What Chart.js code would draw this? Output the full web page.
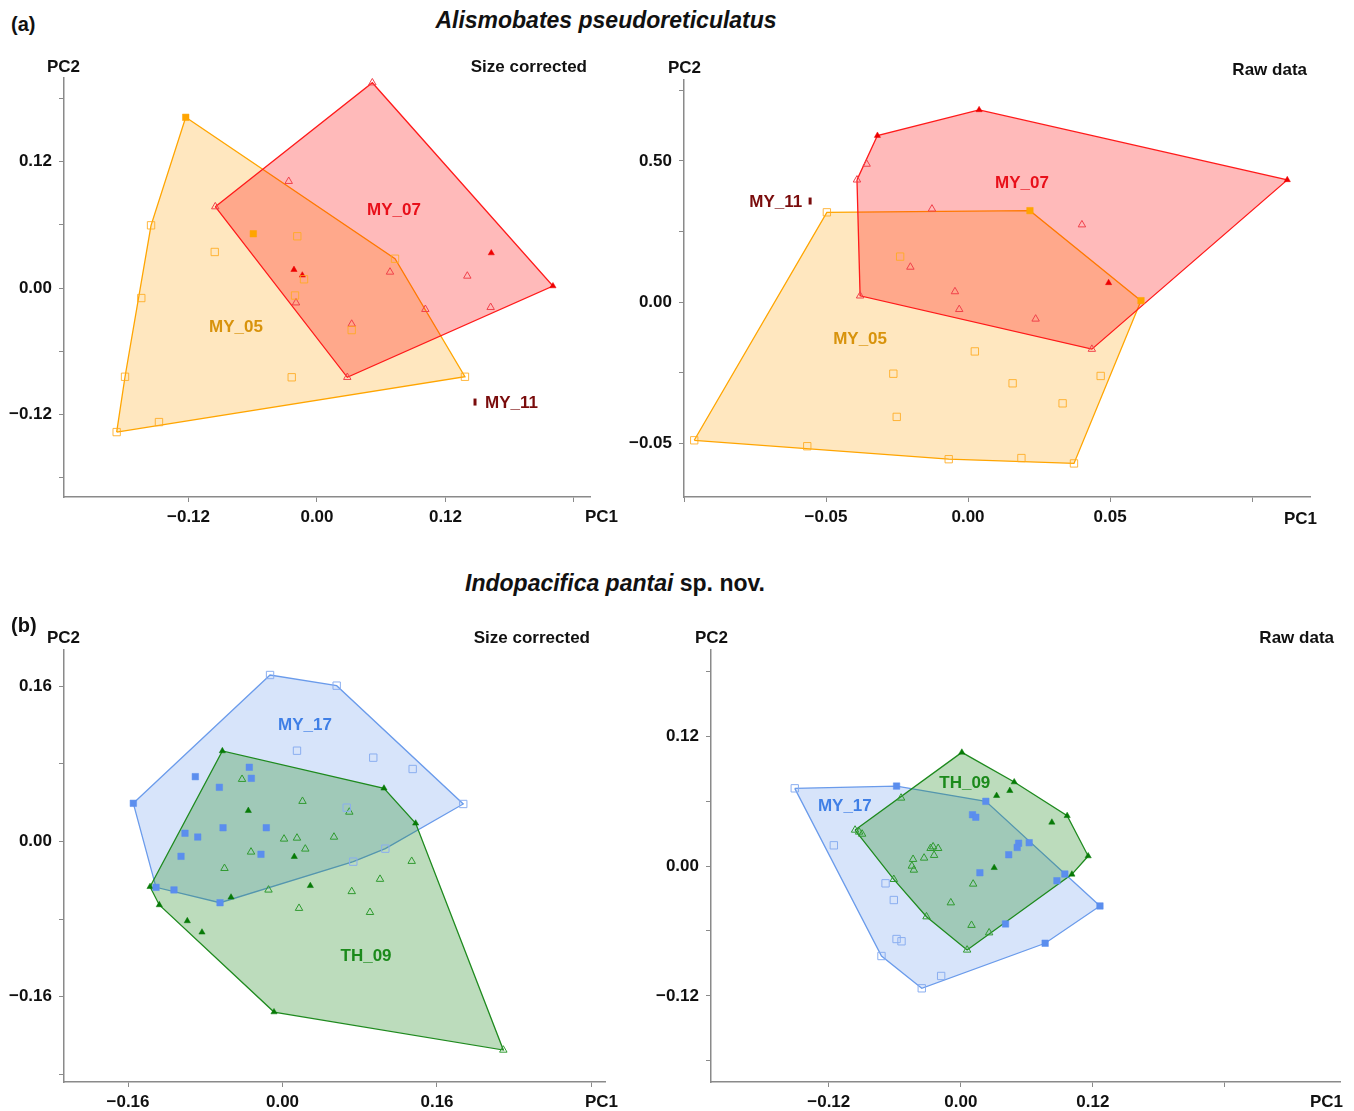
<!DOCTYPE html>
<html>
<head>
<meta charset="utf-8">
<script src="https://cdn.jsdelivr.net/npm/chart.js@4.4.1/dist/chart.umd.min.js"></script>
<style>
  body { margin: 0; background: #fff; width: 1354px; height: 1111px; overflow: hidden; position: relative;
         font-family: "Liberation Sans", Arial, sans-serif; }
  .box { position: absolute; }
  .t { position: absolute; font-weight: bold; font-size: 17px; line-height: 1; color: #111; white-space: nowrap; z-index: 2; }
  .h { font-size: 23px; font-style: italic; }
</style>
</head>
<body>
<div class="box" style="left:0;top:60px"><canvas id="aSize" width="620" height="480"></canvas></div>
<div class="box" style="left:620px;top:60px"><canvas id="aRaw" width="720" height="480"></canvas></div>
<div class="box" style="left:0;top:630px"><canvas id="bSize" width="640" height="481"></canvas></div>
<div class="box" style="left:647px;top:630px"><canvas id="bRaw" width="707" height="481"></canvas></div>

<div class="t" style="left:11px;top:14px;font-size:20px">(a)</div>
<div class="t h" style="left:606px;top:9px;transform:translateX(-50%)">Alismobates pseudoreticulatus</div>
<div class="t" style="left:47px;top:58px">PC2</div>
<div class="t" style="right:767px;top:58px">Size corrected</div>
<div class="t" style="left:668px;top:59px">PC2</div>
<div class="t" style="right:47px;top:61px">Raw data</div>
<div class="t" style="left:585px;top:508px">PC1</div>
<div class="t" style="left:1284px;top:510px">PC1</div>

<div class="t" style="left:615px;top:572px;font-size:23px;transform:translateX(-50%)"><i>Indopacifica pantai</i> sp. nov.</div>
<div class="t" style="left:11px;top:615px;font-size:20px">(b)</div>
<div class="t" style="left:47px;top:629px">PC2</div>
<div class="t" style="right:764px;top:629px">Size corrected</div>
<div class="t" style="left:695px;top:629px">PC2</div>
<div class="t" style="right:20px;top:629px">Raw data</div>
<div class="t" style="left:585px;top:1093px">PC1</div>
<div class="t" style="left:1310px;top:1093px">PC1</div>

<script>
// ---- (a) Alismobates pseudoreticulatus, size corrected ----
var aSizeMY05Filled = [[-0.1226, 0.162], [-0.0595, 0.0515]];
var aSizeMY05Open = [[-0.155, 0.0595], [-0.1641, -0.0095], [-0.1793, -0.0842], [-0.1871, -0.1367],
  [-0.1476, -0.1272], [-0.0955, 0.0342], [-0.0184, 0.0491], [-0.0121, 0.0083], [-0.0205, -0.0071],
  [0.0324, -0.0399], [-0.0236, -0.0847], [0.1382, -0.0842], [0.0729, 0.0278]];
var aSizeMY07Filled = [[0.2204, 0.0019], [0.1628, 0.0332], [-0.0215, 0.0174], [-0.0137, 0.0121]];
var aSizeMY07Open = [[0.0517, 0.1948], [0.1404, 0.0114], [0.0682, 0.0152], [-0.0264, 0.1013],
  [-0.095, 0.0772], [-0.0196, -0.014], [0.1012, -0.0202], [0.1622, -0.0183], [0.0324, -0.0342],
  [0.0283, -0.0847]];
var aSizeMY11 = [[0.1476, -0.1082]];

// ---- (a) raw data ----
var aRawMY05Filled = [[0.0218, 0.0324], [0.0609, 0.0005]];
var aRawMY05Open = [[-0.0497, 0.0318], [-0.0239, 0.0161], [-0.0964, -0.049], [-0.0566, -0.0511],
  [-0.0068, -0.0557], [0.0188, -0.0553], [0.0373, -0.0572], [0.0467, -0.0262], [0.0333, -0.0359],
  [0.0157, -0.0288], [0.0024, -0.0175], [-0.0263, -0.0254], [-0.0251, -0.0407]];
var aRawMY07Filled = [[-0.0319, 0.059], [0.0039, 0.0681], [0.1124, 0.0433], [0.0495, 0.0068]];
var aRawMY07Open = [[-0.0357, 0.0489], [-0.0391, 0.0433], [-0.038, 0.0022], [-0.0127, 0.033],
  [-0.0203, 0.0124], [-0.0046, 0.0037], [-0.0031, -0.0026], [0.0401, 0.0274], [0.0238, -0.006],
  [0.0436, -0.0167]];
var aRawMY11 = [[-0.0556, 0.0358]];

// ---- (b) Indopacifica pantai, size corrected ----
var bSizeMY17Filled = [[-0.1545, 0.0394], [-0.0903, 0.0669], [-0.0344, 0.0766], [-0.0323, 0.0652],
  [-0.0654, 0.0559], [-0.0616, 0.0142], [-0.0168, 0.0142], [-0.101, 0.0085], [-0.0878, 0.0046],
  [-0.1051, -0.0153], [-0.0223, -0.0132], [-0.131, -0.0473], [-0.1124, -0.05], [-0.0647, -0.0632]];
var bSizeMY17Open = [[-0.0129, 0.1718], [0.0561, 0.1608], [0.015, 0.0937], [0.094, 0.0865],
  [0.1348, 0.0748], [0.1872, 0.0387], [0.0665, 0.0349], [0.1065, -0.0074], [0.0733, -0.0208]];
var bSizeTH09Filled = [[-0.0623, 0.0934], [-0.0354, 0.0318], [0.0122, -0.0157], [0.0288, -0.0457],
  [-0.1372, -0.0467], [-0.0533, -0.0576], [0.1051, 0.0549], [0.1379, 0.0188], [-0.1276, -0.0655],
  [-0.0986, -0.082], [-0.0834, -0.0937], [-0.0088, -0.176]];
var bSizeTH09Open = [[-0.0419, 0.0642], [0.0207, 0.0415], [0.0016, 0.0026], [0.015, 0.0036],
  [0.0533, 0.0046], [-0.0326, -0.0108], [0.0236, -0.0077], [-0.0601, -0.0277], [-0.0145, -0.05],
  [0.0692, 0.0304], [0.1338, -0.0204], [0.101, -0.0389], [0.0717, -0.0516], [0.0171, -0.0689],
  [0.0906, -0.0731], [0.2287, -0.2152]];

// ---- (b) raw data ----
var bRawMY17Filled = [[-0.0584, 0.0738], [0.0227, 0.0597], [0.0106, 0.0473], [0.0136, 0.045],
  [0.0621, 0.0215], [0.0525, 0.021], [0.0512, 0.0171], [0.0435, 0.0104], [0.0173, -0.0062],
  [0.0945, -0.0074], [0.0873, -0.0136], [0.1264, -0.0369], [0.0406, -0.0535], [0.0766, -0.0713]];
var bRawMY17Open = [[-0.1509, 0.0717], [-0.0355, -0.1129], [-0.0721, -0.0831], [-0.0179, -0.1015],
  [-0.0584, -0.0674], [-0.0539, -0.0695], [-0.0609, -0.0314], [-0.0684, -0.016], [-0.1154, 0.0191]];
var bRawTH09Filled = [[0.0009, 0.1049], [0.0485, 0.0775], [0.0325, 0.0649], [0.0445, 0.0695],
  [0.0966, 0.0464], [0.0827, 0.0403], [0.1157, 0.0092], [0.1009, -0.0077], [0.0303, -0.0016]];
var bRawTH09Open = [[0.0057, -0.0775], [0.0257, -0.0616], [0.0097, -0.0547], [-0.0091, -0.0339],
  [0.0112, -0.0166], [-0.0312, -0.0468], [-0.0609, -0.0123], [-0.0961, 0.0332], [-0.0924, 0.0314],
  [-0.0897, 0.0295], [-0.0543, 0.0628], [-0.0434, 0.0062], [-0.0334, 0.0074], [-0.0243, 0.0099],
  [-0.0275, 0.0163], [-0.0252, 0.0178], [-0.0206, 0.0163], [-0.0445, 0], [-0.0427, -0.0037]];

// tick labels (only these values get a label, the other ticks are bare marks)
var aSizeXTicks = [-0.12, 0, 0.12], aSizeXText = ['\u22120.12', '0.00', '0.12'];
var aSizeYTicks = [-0.12, 0, 0.12], aSizeYText = ['\u22120.12', '0.00', '0.12'];
var aRawXTicks = [-0.05, 0, 0.05], aRawXText = ['\u22120.05', '0.00', '0.05'];
var aRawYTicks = [-0.05, 0, 0.05], aRawYText = ['\u22120.05', '0.00', '0.50'];
var bSizeXTicks = [-0.16, 0, 0.16], bSizeXText = ['\u22120.16', '0.00', '0.16'];
var bSizeYTicks = [-0.16, 0, 0.16], bSizeYText = ['\u22120.16', '0.00', '0.16'];
var bRawXTicks = [-0.12, 0, 0.12], bRawXText = ['\u22120.12', '0.00', '0.12'];
var bRawYTicks = [-0.12, 0, 0.12], bRawYText = ['\u22120.12', '0.00', '0.12'];

var FONT = '"Liberation Sans", Arial, sans-serif';
var STYLE = {
  MY05: { line: '#FFA500', fill: 'rgba(255,168,20,0.27)', point: '#FFA500', open: 'rgba(255,170,30,0.85)', shape: 'rect', text: '#D8930C' },
  MY07: { line: '#FF1A1A', fill: 'rgba(255,0,0,0.27)', point: '#EE0000', open: '#F0404A', shape: 'triangle', text: '#E8101A' },
  MY11: { point: '#7A0C0C', text: '#7A0C0C' },
  MY17: { line: '#6A9BEB', fill: 'rgba(100,149,237,0.26)', point: '#5B8EEE', open: '#8AAEF0', shape: 'rect', text: '#3F7FE6' },
  TH09: { line: '#1E8A1E', fill: 'rgba(34,139,34,0.3)', point: '#077A07', open: '#2F9A2F', shape: 'triangle', text: '#1B8A1B' }
};

function hull(pts) {
  var p = pts.slice().sort(function (a, b) { return a[0] - b[0] || a[1] - b[1]; });
  function cross(o, a, b) { return (a[0] - o[0]) * (b[1] - o[1]) - (a[1] - o[1]) * (b[0] - o[0]); }
  var lo = [], up = [];
  p.forEach(function (q) {
    while (lo.length >= 2 && cross(lo[lo.length - 2], lo[lo.length - 1], q) <= 0) lo.pop();
    lo.push(q);
  });
  p.slice().reverse().forEach(function (q) {
    while (up.length >= 2 && cross(up[up.length - 2], up[up.length - 1], q) <= 0) up.pop();
    up.push(q);
  });
  lo.pop(); up.pop();
  var h = lo.concat(up);
  h.push(h[0]);
  return h;
}

function xy(pts) { return pts.map(function (p) { return { x: p[0], y: p[1] }; }); }

function group(open, filled, s, hullOrder) {
  var isRect = s.shape === 'rect';
  return [
    { data: xy(hull(open.concat(filled))), showLine: true, fill: 'shape', tension: 0,
      backgroundColor: s.fill, borderColor: s.line, borderWidth: 1.3, pointRadius: 0, order: hullOrder },
    { data: xy(open), pointStyle: s.shape, pointRadius: isRect ? 5.2 : 4.3, borderWidth: 1,
      backgroundColor: 'rgba(0,0,0,0)', borderColor: s.open, order: 1 },
    { data: xy(filled), pointStyle: s.shape, pointRadius: isRect ? 4.6 : 3.6, borderWidth: 0.5,
      backgroundColor: s.point, borderColor: s.point, order: 1 }
  ];
}

function single(pts, s) {
  return { data: xy(pts), pointStyle: 'line', rotation: 90, pointRadius: 3.5, borderWidth: 3,
    borderColor: s.point, backgroundColor: s.point, order: 1 };
}

function axis(pos, min, max, step, vals, texts, size) {
  return {
    type: 'linear', position: pos, min: min, max: max,
    afterFit: function (sc) { if (pos === 'left') sc.width = size; else sc.height = size; },
    border: { color: '#8a8a8a', width: 1.5 },
    grid: { drawOnChartArea: false, drawTicks: true, tickLength: 5, color: '#8a8a8a', lineWidth: 1 },
    ticks: {
      stepSize: step, includeBounds: false, autoSkip: false, maxRotation: 0,
      padding: pos === 'left' ? 7 : 5, color: '#111',
      font: { family: FONT, size: 17, weight: 'bold' },
      callback: function (v) {
        for (var i = 0; i < vals.length; i++) if (Math.abs(vals[i] - v) < 1e-6) return texts[i];
        return '';
      }
    }
  };
}

function labelPlugin(items) {
  return {
    id: 'groupLabels',
    afterDatasetsDraw: function (chart) {
      var ctx = chart.ctx, sx = chart.scales.x, sy = chart.scales.y;
      ctx.save();
      ctx.font = 'bold 17px ' + FONT;
      ctx.textBaseline = 'middle';
      items.forEach(function (it) {
        ctx.fillStyle = it.color;
        ctx.textAlign = it.align || 'center';
        ctx.fillText(it.text, sx.getPixelForValue(it.x), sy.getPixelForValue(it.y));
      });
      ctx.restore();
    }
  };
}

function makeChart(id, datasets, xAxis, yAxis, pad, labels) {
  return new Chart(document.getElementById(id), {
    type: 'scatter',
    data: { datasets: datasets },
    options: {
      responsive: false, animation: false, events: [],
      layout: { padding: pad },
      scales: { x: xAxis, y: yAxis },
      plugins: { legend: { display: false }, tooltip: { enabled: false } }
    },
    plugins: [labelPlugin(labels)]
  });
}

makeChart('aSize',
  group(aSizeMY05Open, aSizeMY05Filled, STYLE.MY05, 6)
    .concat(group(aSizeMY07Open, aSizeMY07Filled, STYLE.MY07, 5))
    .concat([single(aSizeMY11, STYLE.MY11)]),
  axis('bottom', -0.2363, 0.255, 0.12, aSizeXTicks, aSizeXText, 43),
  axis('left', -0.1983, 0.1993, 0.06, aSizeYTicks, aSizeYText, 64),
  { top: 18, right: 30, left: 0, bottom: 0 },
  [{ text: 'MY_07', x: 0.0719, y: 0.074, color: STYLE.MY07.text },
   { text: 'MY_05', x: -0.0757, y: -0.037, color: STYLE.MY05.text },
   { text: 'MY_11', x: 0.1569, y: -0.1091, color: STYLE.MY11.text, align: 'left' }]);

makeChart('aRaw',
  group(aRawMY05Open, aRawMY05Filled, STYLE.MY05, 6)
    .concat(group(aRawMY07Open, aRawMY07Filled, STYLE.MY07, 5))
    .concat([single(aRawMY11, STYLE.MY11)]),
  axis('bottom', -0.1, 0.1204, 0.05, aRawXTicks, aRawXText, 43),
  axis('left', -0.0691, 0.0787, 0.025, aRawYTicks, aRawYText, 64),
  { top: 20, right: 30, left: 0, bottom: 0 },
  [{ text: 'MY_07', x: 0.019, y: 0.0422, color: STYLE.MY07.text },
   { text: 'MY_05', x: -0.038, y: -0.0131, color: STYLE.MY05.text },
   { text: 'MY_11', x: -0.0584, y: 0.0355, color: STYLE.MY11.text, align: 'right' }]);

makeChart('bSize',
  group(bSizeMY17Open, bSizeMY17Filled, STYLE.MY17, 6)
    .concat(group(bSizeTH09Open, bSizeTH09Filled, STYLE.TH09, 5)),
  axis('bottom', -0.2263, 0.334, 0.16, bSizeXTicks, bSizeXText, 29),
  axis('left', -0.2482, 0.1976, 0.08, bSizeYTicks, bSizeYText, 64),
  { top: 20, right: 35, left: 0, bottom: 0 },
  [{ text: 'MY_17', x: 0.0233, y: 0.1202, color: STYLE.MY17.text },
   { text: 'TH_09', x: 0.0865, y: -0.1182, color: STYLE.TH09.text }]);

makeChart('bRaw',
  group(bRawMY17Open, bRawMY17Filled, STYLE.MY17, 6)
    .concat(group(bRawTH09Open, bRawTH09Filled, STYLE.TH09, 5)),
  axis('bottom', -0.227, 0.3445, 0.12, bRawXTicks, bRawXText, 29),
  axis('left', -0.1994, 0.1994, 0.06, bRawYTicks, bRawYText, 64),
  { top: 20, right: 14, left: 0, bottom: 0 },
  [{ text: 'MY_17', x: -0.1054, y: 0.0554, color: STYLE.MY17.text },
   { text: 'TH_09', x: 0.0036, y: 0.0766, color: STYLE.TH09.text }]);
</script>
</body>
</html>
